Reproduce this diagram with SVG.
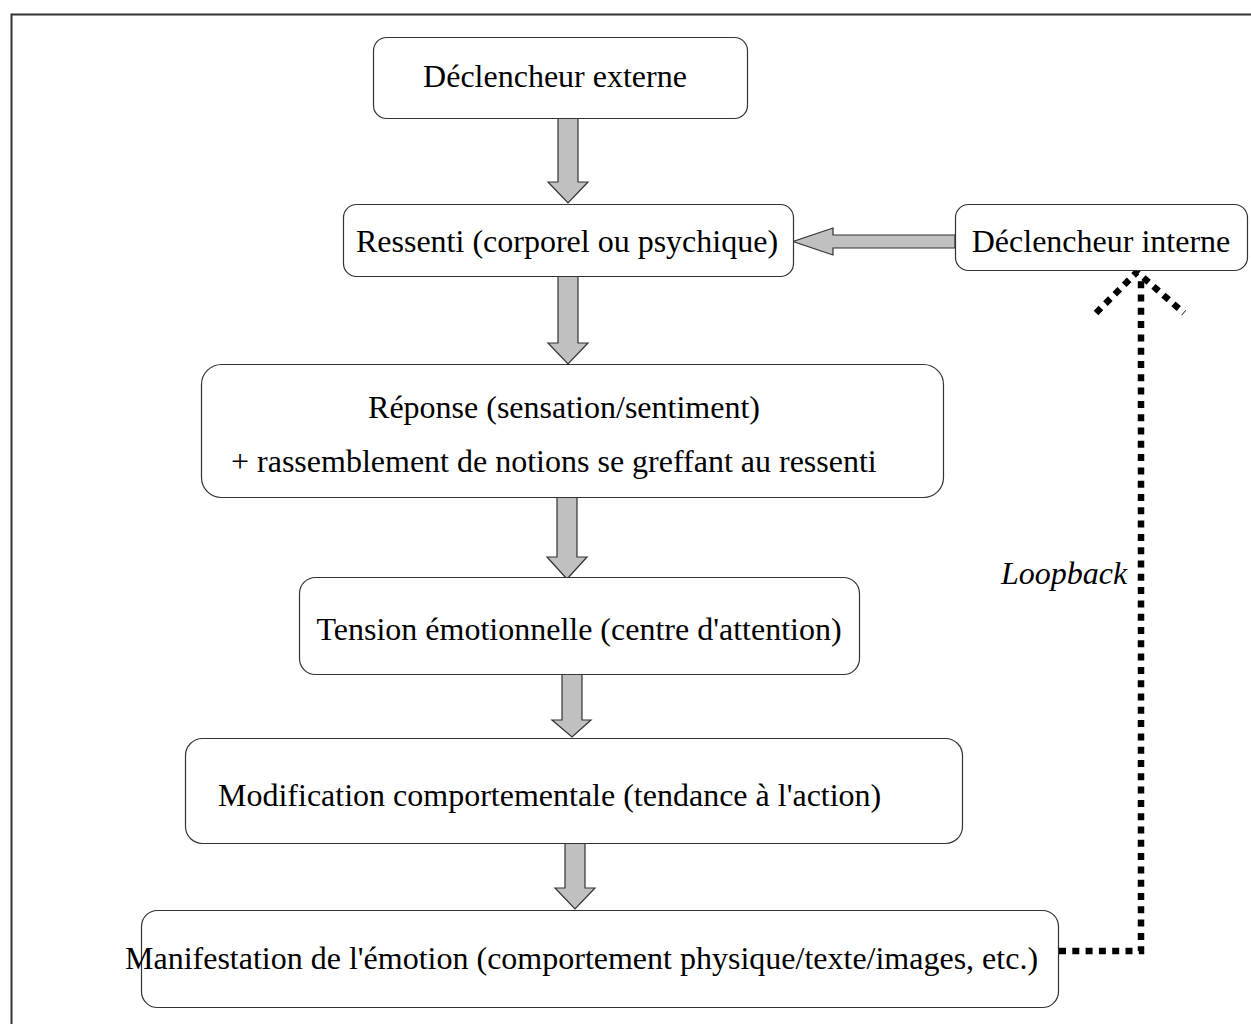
<svg xmlns="http://www.w3.org/2000/svg" width="1251" height="1024" viewBox="0 0 1251 1024">
<style>
.box{fill:#fff;stroke:#333;stroke-width:1.2}
.t{font-family:"Liberation Serif","Times New Roman",serif;font-size:32px;fill:#000}
.arr{fill:#c0c0c0;stroke:#333;stroke-width:1.2;stroke-linejoin:miter}
.dot{fill:none;stroke:#000;stroke-width:6.5;stroke-dasharray:7 6.3}
</style>
<rect x="0" y="0" width="1251" height="1024" fill="#fff"/>
<rect x="11.5" y="14.5" width="1260" height="1030" fill="none" stroke="#333" stroke-width="2"/>
<g id="connectors">
<polygon class="arr" points="558,118 578,118 578,182 588,182 568,203 548,182 558,182"/>
<polygon class="arr" points="558,276 578,276 578,343 588,343 568,364 548,343 558,343"/>
<polygon class="arr" points="557,497 577,497 577,557 587,557 567,579 547,557 557,557"/>
<polygon class="arr" points="562,674 582,674 582,720 591,720 572,737 552,720 562,720"/>
<polygon class="arr" points="565,843 585,843 585,888 595,888 575,909 555,888 565,888"/>
<polygon class="arr" points="955,235 833,235 833,228 793,241.5 833,255 833,248 955,248"/>
<polyline class="dot" points="1059,951 1141,951 1141,278"/>
<polyline class="dot" points="1096,313 1137,272 1184,313"/>
<text class="t" x="1001" y="584" font-style="italic">Loopback</text>
</g>
<g id="n1"><rect class="box" x="373.5" y="37.5" width="374" height="81" rx="13"/><text class="t" x="555" y="87" text-anchor="middle">Déclencheur externe</text></g>
<g id="n2"><rect class="box" x="343.5" y="204.5" width="450" height="72" rx="13"/><text class="t" x="567" y="252" text-anchor="middle">Ressenti (corporel ou psychique)</text></g>
<g id="n3"><rect class="box" x="955.5" y="204.5" width="292" height="66" rx="13"/><text class="t" x="1101" y="252" text-anchor="middle">Déclencheur interne</text></g>
<g id="n4"><rect class="box" x="201.5" y="364.5" width="742" height="133" rx="20"/><text class="t" x="564" y="418" text-anchor="middle">Réponse (sensation/sentiment)</text><text class="t" x="231" y="472">+ rassemblement de notions se greffant au ressenti</text></g>
<g id="n5"><rect class="box" x="299.5" y="577.5" width="560" height="97" rx="16"/><text class="t" x="579" y="640" text-anchor="middle">Tension émotionnelle (centre d'attention)</text></g>
<g id="n6"><rect class="box" x="185.5" y="738.5" width="777" height="105" rx="17"/><text class="t" x="218" y="806">Modification comportementale (tendance à l'action)</text></g>
<g id="n7"><rect class="box" x="141.5" y="910.5" width="917" height="97" rx="16"/><text class="t" x="125" y="969">Manifestation de l'émotion (comportement physique/texte/images, etc.)</text></g>
</svg>
